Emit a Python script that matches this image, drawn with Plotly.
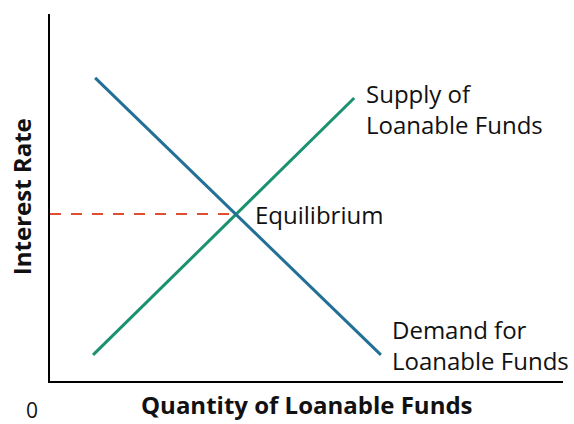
import plotly.graph_objects as go

# Data (arbitrary units, x: quantity 0-10, y: interest rate 0-10)
demand_x = [0.88, 6.45]
demand_y = [8.26, 0.71]
supply_x = [0.84, 5.93]
supply_y = [0.71, 7.71]
eq_x = 3.61
eq_y = 4.55

supply_label = ["Supply of", "Loanable Funds"]
demand_label = ["Demand for", "Loanable Funds"]
eq_label = "Equilibrium"
x_title = "Quantity of Loanable Funds"
y_title = "Interest Rate"
origin_label = "0"

FONT = "Open Sans"
SIZE = 24
fig = go.Figure()

fig.add_trace(go.Scatter(x=[0, eq_x], y=[eq_y, eq_y], mode="lines",
                         line=dict(color="#e04e32", width=2, dash="11px,10px"),
                         hoverinfo="skip"))
fig.add_trace(go.Scatter(x=supply_x, y=supply_y, mode="lines",
                         line=dict(color="#1a9270", width=3), hoverinfo="skip"))
fig.add_trace(go.Scatter(x=demand_x, y=demand_y, mode="lines",
                         line=dict(color="#237097", width=3), hoverinfo="skip"))

txt = dict(color="#111", family=FONT, size=SIZE)
ann = []
ann.append(dict(x=supply_x[1] + 0.19, y=supply_y[1] - 0.30, text="<br>".join(supply_label),
                xanchor="left", yanchor="middle", align="left", showarrow=False, font=txt))
ann.append(dict(x=demand_x[1] + 0.18, y=demand_y[1] + 0.27, text="<br>".join(demand_label),
                xanchor="left", yanchor="middle", align="left", showarrow=False, font=txt))
ann.append(dict(x=eq_x + 0.35, y=eq_y, text=eq_label,
                xanchor="left", yanchor="middle", showarrow=False, font=txt))
ann.append(dict(x=-0.035, xref="paper", y=-0.079, yref="paper", text=origin_label,
                xanchor="center", yanchor="middle", showarrow=False,
                font=dict(size=21, color="#111", family=FONT)))
ann.append(dict(x=0.501, xref="paper", y=-0.1155, yref="paper", text="<b>%s</b>" % x_title,
                xanchor="center", yanchor="bottom", showarrow=False,
                font=dict(size=24, color="#111", family=FONT)))
ann.append(dict(x=-0.0565, xref="paper", y=0.501, yref="paper", text="<b>%s</b>" % y_title,
                textangle=-90, xanchor="center", yanchor="middle", showarrow=False,
                font=dict(size=24, color="#111", family=FONT)))

fig.update_layout(
    width=574, height=424,
    margin=dict(l=50, r=11, t=14, b=43),
    paper_bgcolor="white", plot_bgcolor="white",
    showlegend=False,
    annotations=ann,
    xaxis=dict(range=[0, 10], showline=True, linecolor="black", linewidth=2,
               showgrid=False, zeroline=False, showticklabels=False, ticks=""),
    yaxis=dict(range=[0, 10], showline=True, linecolor="black", linewidth=2,
               showgrid=False, zeroline=False, showticklabels=False, ticks=""),
)

fig.write_html("out.html", config={"displayModeBar": False},
               post_script="document.body.style.margin='0';")
